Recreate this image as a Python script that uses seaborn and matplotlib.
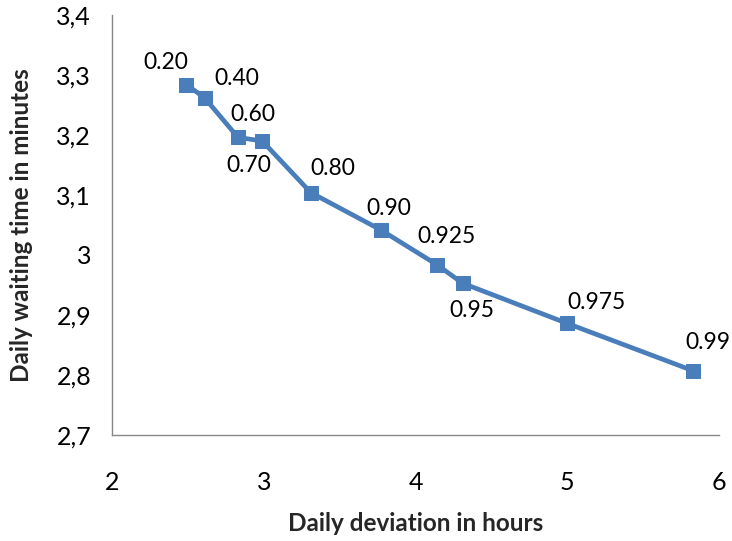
import matplotlib
matplotlib.use("Agg")
import matplotlib.pyplot as plt
import seaborn as sns
import pandas as pd

# Data
deviation_hours = [2.49, 2.61, 2.83, 2.99, 3.31, 3.77, 4.14, 4.31, 5.00, 5.83]
waiting_minutes = [3.284, 3.262, 3.196, 3.190, 3.104, 3.042, 2.984, 2.953, 2.886, 2.807]
point_labels = ["0.20", "0.40", "0.60", "0.70", "0.80", "0.90", "0.925", "0.95", "0.975", "0.99"]
label_offsets = [(-21, 22), (32, 19), (15, 23), (-13, -24), (22, 24),
                 (8, 21), (10, 28), (9, -27), (29, 21), (15, 28)]
x_ticks = [2, 3, 4, 5, 6]
y_ticks = [2.7, 2.8, 2.9, 3.0, 3.1, 3.2, 3.3, 3.4]
y_tick_labels = ["2,7", "2,8", "2,9", "3", "3,1", "3,2", "3,3", "3,4"]

df = pd.DataFrame({"x": deviation_hours, "y": waiting_minutes})

sns.set_theme(style="white")
plt.rcParams["font.family"] = ["Lato", "DejaVu Sans"]

fig = plt.figure(figsize=(7.32, 5.41), dpi=100)
ax = fig.add_axes([112 / 732, 1 - 435 / 541, (719 - 112) / 732, (435 - 15) / 541])

color = "#4a7ebb"
sns.lineplot(data=df, x="x", y="y", ax=ax, color=color, linewidth=3.4,
             marker="s", markersize=10, markeredgecolor=color, markerfacecolor=color,
             sort=False)

for x, y, lab, (dx, dy) in zip(deviation_hours, waiting_minutes, point_labels, label_offsets):
    ax.annotate(lab, (x, y), xytext=(dx * 0.72, dy * 0.72), textcoords="offset points",
                ha="center", va="center", fontsize=16.5, color="black")

ax.set_xlim(2, 6)
ax.set_ylim(2.7, 3.4)
ax.set_xticks(x_ticks)
ax.set_xticklabels([str(t) for t in x_ticks])
ax.set_yticks(y_ticks)
ax.set_yticklabels(y_tick_labels)

for s in ["top", "right"]:
    ax.spines[s].set_visible(False)
for s in ["left", "bottom"]:
    ax.spines[s].set_color("#868686")
    ax.spines[s].set_linewidth(1.0)

ax.tick_params(axis="both", which="major", direction="out", length=5, width=1,
               color="#868686", labelsize=18, labelcolor="black")
ax.tick_params(axis="x", pad=21)
ax.tick_params(axis="y", pad=10)

ax.set_xlabel("Daily deviation in hours", fontsize=17.5, fontweight="bold", labelpad=13)
ax.set_ylabel("Daily waiting time in minutes", fontsize=17.5, fontweight="bold", labelpad=17)

fig.savefig("out.png", dpi=100)
